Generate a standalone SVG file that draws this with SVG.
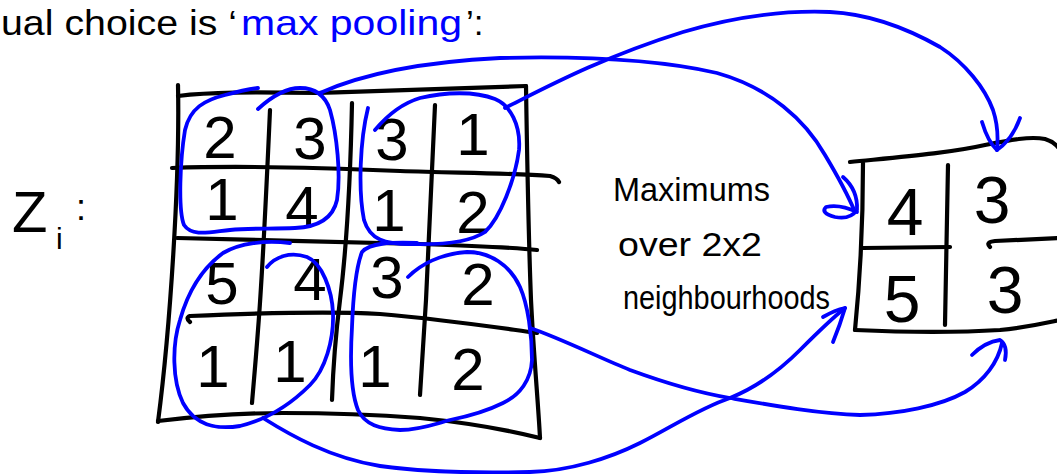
<svg xmlns="http://www.w3.org/2000/svg" width="1057" height="474" viewBox="0 0 1057 474">
<style>
.ink{fill:none;stroke:#000;stroke-width:4.2;stroke-linecap:round;stroke-linejoin:round}
.blue{fill:none;stroke:#0000ff;stroke-width:3.8;stroke-linecap:round;stroke-linejoin:round}
.dig{font-family:"Liberation Sans",Arial,sans-serif;font-size:60px;fill:#000;text-anchor:middle}
.odig{font-family:"Liberation Sans",Arial,sans-serif;font-size:66px;fill:#000;text-anchor:middle}
.note{font-family:"Liberation Sans",Arial,sans-serif;font-size:34px;fill:#000}
.hdr{font-family:"Liberation Sans",Arial,sans-serif;font-size:35px;fill:#000}
</style>
<rect width="1057" height="474" fill="#fff"/>
<g id="header">
<text class="hdr" y="35"><tspan x="1" textLength="236" lengthAdjust="spacingAndGlyphs">ual choice is ‘</tspan><tspan x="241" fill="#0000ff" textLength="221" lengthAdjust="spacingAndGlyphs">max pooling</tspan><tspan x="466">’:</tspan></text>
</g>
<g id="label-zi">
<text x="12" y="232" font-family="Liberation Sans,Arial,sans-serif" font-size="58">Z</text>
<text x="56" y="249" font-family="Liberation Sans,Arial,sans-serif" font-size="30">i</text>
<text x="76" y="220" font-family="Liberation Sans,Arial,sans-serif" font-size="36">:</text>
</g>
<g id="input-grid">
<path class="ink" d="M178,85 C180,180 170,330 158,422"/>
<path class="ink" d="M178,96 C210,92 250,92 317,93 C380,91 440,89 526,86"/>
<path class="ink" d="M526,86 C527,150 529,250 531,300 C534,360 538,400 540,438"/>
<path class="ink" d="M158,421 C200,416 250,413 283,413 C330,413 380,415 420,418 C460,422 500,428 540,438"/>
<path class="ink" d="M172,168 C250,165 330,168 400,171 C460,173 510,173 550,176 Q557,178 559,182"/>
<path class="ink" d="M177,238 C250,240 350,242 420,244 C480,246 520,248 537,250"/>
<path class="ink" d="M190,322 Q185,318 190,316 C260,313 330,311 380,314 C450,320 500,328 537,333"/>
<path class="ink" d="M270,110 C266,200 262,280 258,330 C255,370 253,390 252,403"/>
<path class="ink" d="M352,103 C350,200 345,260 340,300 C335,340 333,370 332,400"/>
<path class="ink" d="M435,105 C432,180 428,250 426,300 C423,350 421,380 420,395"/>
<text class="dig" x="220" y="158">2</text>
<text class="dig" x="310" y="159">3</text>
<text class="dig" x="392" y="160">3</text>
<text class="dig" x="473" y="155">1</text>
<text class="dig" x="222" y="220">1</text>
<text class="dig" x="302" y="228">4</text>
<text class="dig" x="389" y="231">1</text>
<text class="dig" x="473" y="233">2</text>
<text class="dig" x="222" y="304">5</text>
<text class="dig" x="310" y="300">4</text>
<text class="dig" x="387" y="298">3</text>
<text class="dig" x="478" y="305">2</text>
<text class="dig" x="213" y="387">1</text>
<text class="dig" x="290" y="382">1</text>
<text class="dig" x="375" y="387">1</text>
<text class="dig" x="468" y="390">2</text>
</g>
<g id="pooling-regions">
<path class="blue" d="M258,109 C270,98 285,88 300,88 C315,88 325,95 330,110 C337,135 341,175 337,200 C333,218 318,227 295,228 C270,229 250,228 230,230 C210,232 192,237 184,225 C178,210 180,160 185,130 C190,108 205,100 225,95 C240,91 250,89 258,88"/>
<path class="blue" d="M368,108 C360,140 358,190 364,220 C370,240 385,244 410,244 C440,245 470,242 485,232 C500,218 515,180 519,150 C521,125 510,105 495,99 C475,91 445,92 420,98 C400,104 385,118 375,130"/>
<path class="blue" d="M267,267 C275,257 290,251 307,257 C322,263 332,290 333,313 C334,340 325,370 310,385 C290,405 265,420 240,426 C215,430 195,425 183,403 C172,380 172,345 180,320 C187,295 200,270 223,253 C240,243 265,240 290,243"/>
<path class="blue" d="M408,277 C420,265 440,254 467,252 C490,252 510,265 520,287 C528,305 532,335 532,360 C531,380 520,395 503,403 C485,412 465,417 450,420 C435,424 420,430 400,430 C380,429 365,425 358,410 C350,390 350,360 352,327 C353,300 355,270 362,252 C370,243 390,242 417,243"/>
</g>
<g id="annotation">
<text class="note" x="613" y="201" textLength="157" lengthAdjust="spacingAndGlyphs">Maximums</text>
<text class="note" x="618" y="256" textLength="144" lengthAdjust="spacingAndGlyphs">over 2x2</text>
<text class="note" x="623" y="309" textLength="207" lengthAdjust="spacingAndGlyphs">neighbourhoods</text>
</g>
<g id="output-grid">
<path class="ink" d="M850,162 C900,157 950,153 985,145 C1010,140 1030,136 1045,139 Q1055,142 1060,150"/>
<path class="ink" d="M863,163 C863,220 860,280 855,330"/>
<path class="ink" d="M863,248 L950,247"/>
<path class="ink" d="M990,247 Q985,242 995,241 L1060,238"/>
<path class="ink" d="M948,165 C947,230 946,280 945,325"/>
<path class="ink" d="M855,330 C900,332 950,333 1000,330 C1030,327 1050,322 1060,320"/>
<text class="odig" x="905" y="235">4</text>
<text class="odig" x="992" y="223">3</text>
<text class="odig" x="902" y="322">5</text>
<text class="odig" x="1005" y="313">3</text>
</g>
<g id="connectors">
<path class="blue" d="M320,93 C360,75 420,62 500,58 C580,56 660,60 717,73 C770,88 805,120 825,155 C840,180 850,200 855,212"/>
<path class="blue" d="M843,177 Q858,190 857,210 Q850,220 835,217 Q820,213 826,207 Q840,204 857,212"/>
<path class="blue" d="M505,108 C545,88 600,58 683,32 C730,18 780,10 830,12 C870,14 910,30 940,47 C965,63 985,88 993,110 C998,125 998,140 997,150"/>
<path class="blue" d="M982,122 Q988,142 997,150 Q1012,140 1020,118"/>
<path class="blue" d="M263,418 C290,435 330,458 380,466 C430,473 490,473 530,472 C570,471 610,458 640,443 C670,428 700,408 730,398 C760,386 785,365 800,350 C815,335 830,320 845,308"/>
<path class="blue" d="M823,317 Q835,310 845,308 Q840,325 833,342"/>
<path class="blue" d="M530,328 C560,338 600,358 630,370 C660,381 700,393 730,398 C770,405 820,414 860,415 C900,414 940,406 965,392 C985,380 998,362 1002,343"/>
<path class="blue" d="M972,355 Q985,342 1000,340 Q1008,345 1005,360"/>
</g>
</svg>
